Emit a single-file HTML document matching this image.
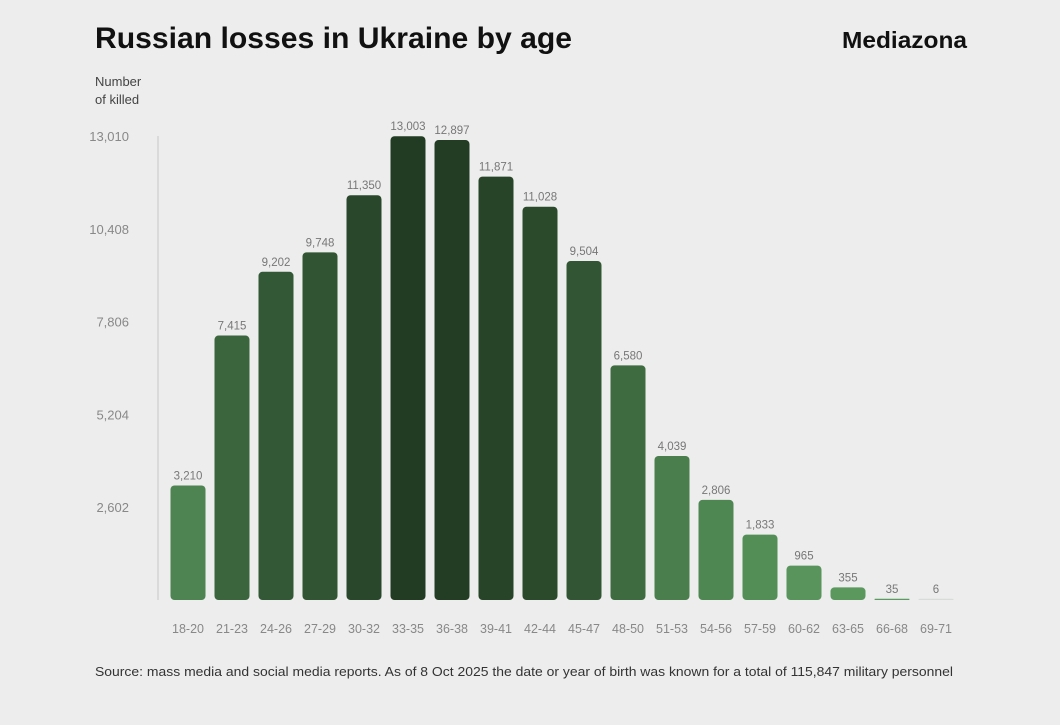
<!DOCTYPE html>
<html><head><meta charset="utf-8">
<style>
body{margin:0;background:#ededed;width:1060px;height:720px;overflow:hidden;font-family:"Liberation Sans",sans-serif}
</style></head>
<body>
<svg width="1060" height="720" id="svg">
<rect width="1060" height="720" fill="#ededed"/>
<text x="95" y="48" font-size="30" font-weight="bold" fill="#111" textLength="477" lengthAdjust="spacingAndGlyphs">Russian losses in Ukraine by age</text>
<text x="842" y="48" font-size="23" font-weight="bold" fill="#111" textLength="125" lengthAdjust="spacingAndGlyphs">Mediazona</text>
<text x="95" y="86" font-size="13" fill="#444">Number</text>
<text x="95" y="104" font-size="13" fill="#444">of killed</text>
<line x1="158" y1="136" x2="158" y2="600" stroke="#d4d4d4" stroke-width="1.5"/>
<g id="ticks"></g><g id="bars"></g>
<text x="95" y="676" font-size="13" fill="#333" textLength="858" lengthAdjust="spacingAndGlyphs">Source: mass media and social media reports. As of 8 Oct 2025 the date or year of birth was known for a total of 115,847 military personnel</text>
</svg>
<script>
const categories=["18-20","21-23","24-26","27-29","30-32","33-35","36-38","39-41","42-44","45-47","48-50","51-53","54-56","57-59","60-62","63-65","66-68","69-71"];
const values=[3210,7415,9202,9748,11350,13003,12897,11871,11028,9504,6580,4039,2806,1833,965,355,35,6];
const tickValues=[2602,5204,7806,10408,13010];
const yMax=13010, y0=600, y1=136;
const y=v=>y0-(v/yMax)*(y0-y1);
const x=i=>188+i*44;
const NS="http://www.w3.org/2000/svg";
const tg=document.getElementById('ticks'), bg=document.getElementById('bars');
tickValues.forEach(t=>{
  const e=document.createElementNS(NS,'text');
  e.setAttribute('x',129);e.setAttribute('y',y(t)+5);e.setAttribute('font-size',13);e.setAttribute('fill','#888');e.setAttribute('text-anchor','end');
  e.textContent=t.toLocaleString('en-US');
  
  
  tg.appendChild(e);
});
function col(v){
  const f=v/yMax;
  const a=[92,155,96], b=[34,60,35];
  const c=a.map((k,i)=>Math.round(k+(b[i]-k)*f));
  return `rgb(${c[0]},${c[1]},${c[2]})`;
}
values.forEach((v,i)=>{
  const cx=x(i), top=y(v), h=Math.max(y0-top,1.2);
  const r=document.createElementNS(NS,'rect');
  r.setAttribute('x',cx-17.5);r.setAttribute('y',y0-h);r.setAttribute('width',35);r.setAttribute('height',h);
  r.setAttribute('rx',Math.min(4,h/2));r.setAttribute('fill',v<20?'#d8dcd8':col(v));
  
  
  bg.appendChild(r);
  const l=document.createElementNS(NS,'text');
  l.setAttribute('x',cx);l.setAttribute('y',y0-h-6);l.setAttribute('font-size',11.5);l.setAttribute('fill','#777');l.setAttribute('text-anchor','middle');
  l.textContent=v.toLocaleString('en-US');
  
  
  bg.appendChild(l);
  const c=document.createElementNS(NS,'text');
  c.setAttribute('x',cx);c.setAttribute('y',633);c.setAttribute('font-size',12.5);c.setAttribute('fill','#888');c.setAttribute('text-anchor','middle');
  c.textContent=categories[i];
  
  
  bg.appendChild(c);
});
</script>
</body></html>
